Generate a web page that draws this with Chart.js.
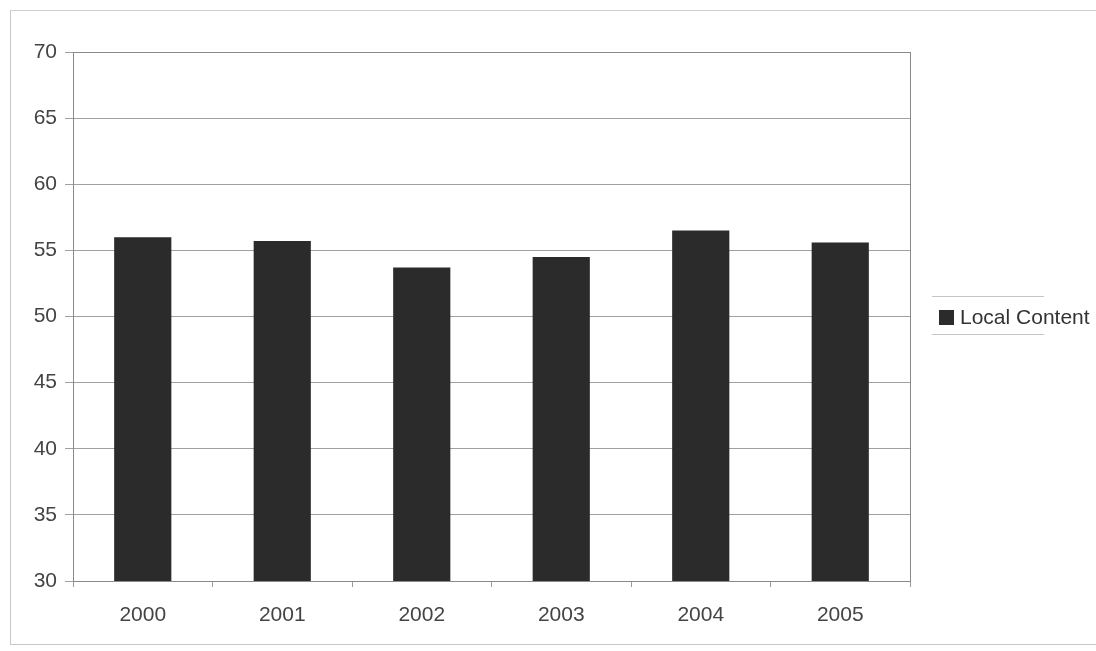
<!DOCTYPE html>
<html>
<head>
<meta charset="utf-8">
<script src="https://cdn.jsdelivr.net/npm/chart.js"></script>
<style>
  html, body { margin:0; padding:0; background:#fff; }
  .wrap { position:relative; width:1096px; height:651px; overflow:hidden; }
  .frame { position:absolute; left:10px; top:10px; width:1100px; height:635px; border-left:1px solid #c8c8c8; border-top:1px solid #d0d0d0; border-bottom:1px solid #c8c8c8; box-sizing:border-box; }
  canvas { position:absolute; left:0; top:0; }
  .legend { position:absolute; left:932px; top:296px; width:112px; height:37px; border-top:1px solid #c4c4c4; border-bottom:1px solid #c4c4c4; }
  .legend .item { position:absolute; left:7px; top:9px; white-space:nowrap; font:21px "Liberation Sans", Arial, sans-serif; color:#333; line-height:21px; }
  .legend .sw { display:inline-block; width:15px; height:15px; background:#2b2b2b; margin-right:6px; vertical-align:-1px; }
</style>
</head>
<body>
<div class="wrap">
  <div class="frame"></div>
  <canvas id="c" width="1096" height="651"></canvas>
  <div class="legend"><div class="item"><span class="sw"></span>Local Content</div></div>
</div>
<script>
  const years = ['2000', '2001', '2002', '2003', '2004', '2005'];
  const localContent = [56.0, 55.7, 53.7, 54.5, 56.5, 55.6];
  const yMin = 30, yMax = 70, yStep = 5;

  // plot frame (right + top edge of the plot area)
  const frame = {
    id: 'frame',
    afterDraw(chart){
      const a = chart.chartArea, ctx = chart.ctx;
      ctx.save();
      ctx.strokeStyle = '#8a8a8a'; ctx.lineWidth = 1;
      ctx.strokeRect(Math.round(a.left) + 0.5, Math.round(a.top) + 0.5, Math.round(a.right - a.left), Math.round(a.bottom - a.top));
      ctx.restore();
    }
  };

  new Chart(document.getElementById('c'), {
    type: 'bar',
    data: {
      labels: years,
      datasets: [{ label: 'Local Content', data: localContent, backgroundColor: '#2b2b2b', borderWidth: 0,
        categoryPercentage: 1, barPercentage: 0.41 }]
    },
    options: {
      responsive: false, animation: false,
      layout: { padding: { left: 0, top: 52, right: 186, bottom: 0 } },
      plugins: { legend: { display: false }, tooltip: { enabled: false } },
      scales: {
        x: {
          grid: { display: true, drawOnChartArea: false, offset: true, tickLength: 6, color: '#999' },
          border: { color: '#777' },
          ticks: { color: '#444', padding: 16, font: { family: 'Liberation Sans', size: 21 } },
          afterFit(s){ s.height = 70; }
        },
        y: {
          min: yMin, max: yMax,
          grid: { color: '#a0a0a0', tickLength: 8 },
          border: { color: '#777' },
          ticks: { stepSize: yStep, color: '#444', padding: 8, font: { family: 'Liberation Sans', size: 21 } },
          afterFit(s){ s.width = 73; }
        }
      }
    },
    plugins: [frame]
  });
</script>
</body>
</html>
